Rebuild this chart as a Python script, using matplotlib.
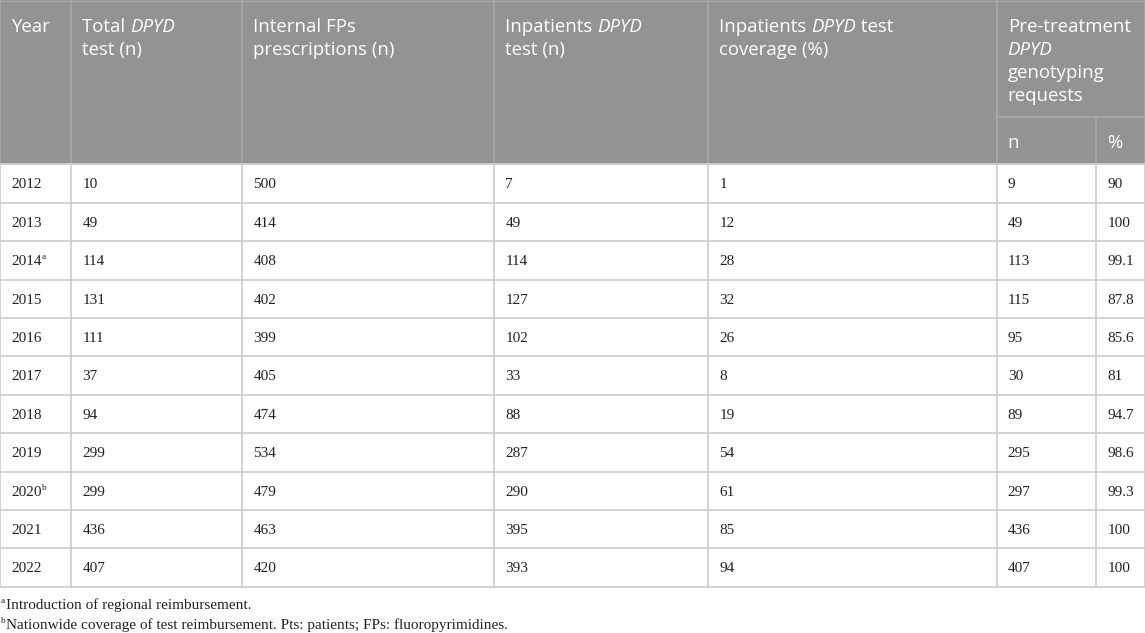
import matplotlib.pyplot as plt
from matplotlib.patches import Rectangle

years = ['2012', '2013', '2014', '2015', '2016', '2017', '2018', '2019', '2020', '2021', '2022']
year_notes = {'2014': 'a', '2020': 'b'}
total_tests = [10, 49, 114, 131, 111, 37, 94, 299, 299, 436, 407]
fp_prescriptions = [500, 414, 408, 402, 399, 405, 474, 534, 479, 463, 420]
inpatient_tests = [7, 49, 114, 127, 102, 33, 88, 287, 290, 395, 393]
inpatient_coverage = [1, 12, 28, 32, 26, 8, 19, 54, 61, 85, 94]
pretreat_n = [9, 49, 113, 115, 95, 30, 89, 295, 297, 436, 407]
pretreat_pct = ['90', '100', '99.1', '87.8', '85.6', '81', '94.7', '98.6', '99.3', '100', '100']

# header lines, each line is a list of (text, style)
headers = [
    [[('Year', 'normal')]],
    [[('Total ', 'normal'), ('DPYD', 'italic')], [('test (n)', 'normal')]],
    [[('Internal FPs', 'normal')], [('prescriptions (n)', 'normal')]],
    [[('Inpatients ', 'normal'), ('DPYD', 'italic')], [('test (n)', 'normal')]],
    [[('Inpatients ', 'normal'), ('DPYD', 'italic'), (' test', 'normal')], [('coverage (%)', 'normal')]],
    [[('Pre-treatment', 'normal')], [('DPYD', 'italic')], [('genotyping', 'normal')], [('requests', 'normal')]],
]
sub_headers = ['n', '%']
footnotes = [('a', 'Introduction of regional reimbursement.'),
             ('b', 'Nationwide coverage of test reimbursement. Pts: patients; FPs: fluoropyrimidines.')]

W, H = 1145, 633
col_x = [0, 71.3, 242.3, 494.3, 708.3, 996.7, 1096.3, 1145]
header_h = 164.3
sub_y = 116.7
row_h = 38.4
pad = 11
head_col = '#939393'
head_line = '#a9a9a9'
grid_col = '#cccccc'
head_font = 'Open Sans'
body_font = 'Liberation Serif'
head_size = 13.4
body_size = 11

fig = plt.figure(figsize=(W / 100, H / 100), dpi=100)
ax = fig.add_axes([0, 0, 1, 1])
ax.set_xlim(0, W)
ax.set_ylim(H, 0)
ax.axis('off')
renderer = fig.canvas.get_renderer()


def text_w(txt, **kw):
    a = ax.text(0, 0, '|' + txt + '|', **kw)
    b = ax.text(0, 0, '||', **kw)
    w = a.get_window_extent(renderer).width - b.get_window_extent(renderer).width
    a.remove()
    b.remove()
    return w


def draw_runs(x, y, parts, **kw):
    for txt, style in parts:
        ax.text(x, y, txt, style=style, va='baseline', ha='left', **kw)
        x += text_w(txt, style=style, **kw)


# header background
ax.add_patch(Rectangle((0, 0), W, header_h, facecolor=head_col, edgecolor='none'))

# grid lines
body_bottom = header_h + row_h * len(years)
for k, x in enumerate(col_x):
    top = sub_y if k == 6 else 0
    ax.plot([x, x], [top, header_h], color=head_line, lw=1.2)
    ax.plot([x, x], [header_h, body_bottom], color=grid_col, lw=1.2)
ax.plot([col_x[5], W], [sub_y, sub_y], color=head_line, lw=1.2)
for i in range(len(years) + 1):
    y = header_h + i * row_h
    ax.plot([0, W], [y, y], color=grid_col, lw=1.2)
ax.plot([0, W], [0.5, 0.5], color=head_line, lw=1)

# header text
hk = dict(fontsize=head_size, family=head_font, color='white')
for c, lines in enumerate(headers):
    for j, parts in enumerate(lines):
        draw_runs(col_x[c] + pad, 31.5 + j * 23.3, parts, **hk)
for k, s in enumerate(sub_headers):
    ax.text(col_x[5 + k] + pad, 148, s, va='baseline', ha='left', **hk)

# body
bk = dict(fontsize=body_size, family=body_font, color='#222222')
columns = [years, total_tests, fp_prescriptions, inpatient_tests, inpatient_coverage, pretreat_n, pretreat_pct]
for i in range(len(years)):
    yb = header_h + i * row_h + row_h / 2 + 5
    for c, col in enumerate(columns):
        s = str(col[i])
        ax.text(col_x[c] + pad, yb, s, va='baseline', ha='left', **bk)
        if c == 0 and s in year_notes:
            w = text_w(s, **bk)
            ax.text(col_x[c] + pad + w + 0.5, yb - 6, year_notes[s], va='baseline', ha='left',
                    fontsize=body_size * 0.6, family=body_font, color='#222222')

# footnotes
for k, (mark, note) in enumerate(footnotes):
    yb = 609.3 + k * 20
    ax.text(1, yb - 6, mark, va='baseline', ha='left', fontsize=body_size * 0.6, family=body_font, color='#222222')
    ax.text(5.5, yb, note, va='baseline', ha='left', **bk)

fig.savefig('out.png', dpi=100)
